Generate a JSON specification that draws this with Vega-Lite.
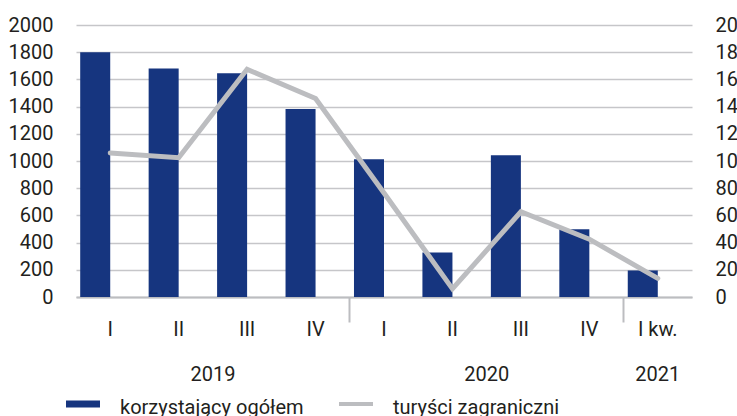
{
  "$schema": "https://vega.github.io/schema/vega-lite/v6.json",
  "width": 616,
  "height": 272,
  "autosize": {"type": "none"},
  "padding": {"left": 76, "top": 25, "right": 45, "bottom": 119},
  "config": {
    "view": {"stroke": null},
    "font": "Roboto",
    "axis": {"labelFont": "Roboto", "labelFontSize": 20, "labelColor": "#231f20"},
    "legend": {"labelFont": "Roboto", "labelFontSize": 20, "labelColor": "#231f20"}
  },
  "data": {
    "values": [
      {"okres": "2019|I", "seria": "korzystający ogółem", "korzystajacy": 1800, "turysci": 105.9},
      {"okres": "2019|II", "seria": "korzystający ogółem", "korzystajacy": 1681, "turysci": 102.4},
      {"okres": "2019|III", "seria": "korzystający ogółem", "korzystajacy": 1645, "turysci": 167.4},
      {"okres": "2019|IV", "seria": "korzystający ogółem", "korzystajacy": 1383, "turysci": 146},
      {"okres": "2020|I", "seria": "korzystający ogółem", "korzystajacy": 1012, "turysci": 76.5},
      {"okres": "2020|II", "seria": "korzystający ogółem", "korzystajacy": 327, "turysci": 6},
      {"okres": "2020|III", "seria": "korzystający ogółem", "korzystajacy": 1042, "turysci": 62.7},
      {"okres": "2020|IV", "seria": "korzystający ogółem", "korzystajacy": 498, "turysci": 42.5},
      {"okres": "2021|I kw.", "seria": "korzystający ogółem", "korzystajacy": 195, "turysci": 13.7}
    ]
  },
  "layer": [
    {
      "mark": {"type": "bar"},
      "encoding": {
        "x": {
          "field": "okres", "type": "nominal", "sort": null,
          "scale": {"paddingInner": 0, "paddingOuter": 0},
          "axis": {
            "orient": "bottom", "title": null,
            "labelExpr": "split(datum.value, '|')[1]",
            "labelAngle": 0, "labelPadding": 22,
            "ticks": false, "domain": true, "domainColor": "#bcbdc0", "domainWidth": 2,
            "grid": false
          }
        },
        "xOffset": {
          "field": "seria", "type": "nominal",
          "scale": {"domain": ["korzystający ogółem", "brak"], "paddingInner": 0, "paddingOuter": 0.14}
        },
        "y": {
          "field": "korzystajacy", "type": "quantitative",
          "scale": {"domain": [0, 2000]},
          "axis": {
            "orient": "left", "title": null, "format": "d",
            "values": [0, 200, 400, 600, 800, 1000, 1200, 1400, 1600, 1800, 2000],
            "grid": true, "gridColor": "#c6c6c9", "gridWidth": 1.5,
            "domain": false, "ticks": false, "labelPadding": 23
          }
        },
        "color": {
          "datum": "korzystający ogółem", "type": "nominal",
          "scale": {"domain": ["korzystający ogółem", "turyści zagraniczni"], "range": ["#16357f", "#bcbdc0"]},
          "legend": {
            "orient": "none", "legendX": -10, "legendY": 362,
            "direction": "horizontal", "title": null, "padding": 0,
            "symbolType": "M-1,-0.2H1V0.2H-1Z", "symbolSize": 1156,
            "symbolStrokeWidth": 0, "symbolOpacity": 1,
            "labelOffset": 20, "columnPadding": 35, "labelLimit": 400,
            "encode": {
              "symbols": {"update": {"shape": {"signal": "datum.value == 'turyści zagraniczni' ? 'M-1,-0.12H1V0.12H-1Z' : 'M-1,-0.2H1V0.2H-1Z'"}}},
              "labels": {"update": {"dy": {"value": 4}}}
            }
          }
        }
      }
    },
    {
      "mark": {"type": "line", "strokeWidth": 5, "strokeCap": "round", "strokeJoin": "miter"},
      "encoding": {
        "x": {
          "field": "okres", "type": "nominal", "sort": null,
          "axis": {
            "orient": "bottom", "title": null,
            "bandPosition": 0,
            "labelExpr": "(indexof(datum.value, '|III') > 0 || indexof(datum.value, '2021') == 0) ? split(datum.value, '|')[0] : ''",
            "labelAngle": 0, "labelPadding": 42,
            "labelOffset": {"condition": {"test": "indexof(datum.value, '2021') == 0", "value": 0}, "value": -34.2},
            "domain": false, "grid": false,
            "ticks": true, "tickSize": 25, "tickColor": "#bcbdc0", "tickWidth": 2,
            "tickOpacity": {"condition": {"test": "datum.value == '2020|I' || datum.value == '2021|I kw.'", "value": 1}, "value": 0}
          }
        },
        "y": {
          "field": "turysci", "type": "quantitative",
          "scale": {"domain": [0, 200]},
          "axis": {
            "orient": "right", "title": null,
            "values": [0, 20, 40, 60, 80, 100, 120, 140, 160, 180, 200],
            "grid": false, "domain": false, "ticks": false, "labelPadding": 23
          }
        },
        "color": {"datum": "turyści zagraniczni", "type": "nominal"}
      }
    }
  ],
  "resolve": {"scale": {"y": "independent"}, "axis": {"x": "independent", "y": "independent"}}
}
